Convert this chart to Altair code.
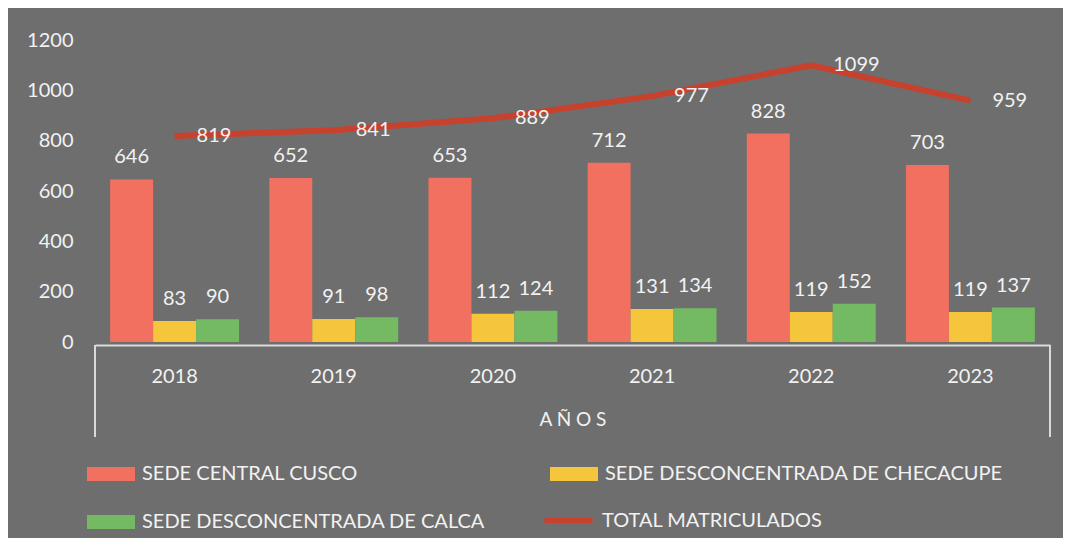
import altair as alt
import pandas as pd

years = ["2018", "2019", "2020", "2021", "2022", "2023"]
cusco = [646, 652, 653, 712, 828, 703]
checacupe = [83, 91, 112, 131, 119, 119]
calca = [90, 98, 124, 134, 152, 137]
total = [819, 841, 889, 977, 1099, 959]

series_names = [
    "SEDE CENTRAL CUSCO",
    "SEDE DESCONCENTRADA DE CHECACUPE",
    "SEDE DESCONCENTRADA DE CALCA",
]
total_name = "TOTAL  MATRICULADOS"
bar_colors = ["#F1705F", "#F5C53C", "#74BA62"]
line_color = "#C8412C"
text_color = "#F2F2F2"
bg = "#6E6E6E"
font = "Lato"

rows = []
for i, y in enumerate(years):
    for name, vals in zip(series_names, [cusco, checacupe, calca]):
        rows.append({"year": y, "serie": name, "value": vals[i]})
df_bars = pd.DataFrame(rows)
df_total = pd.DataFrame({"year": years, "value": total, "serie": [total_name] * len(years)})

W, H = 955, 302

x_enc = alt.X(
    "year:N",
    sort=years,
    scale=alt.Scale(paddingInner=0.19, paddingOuter=0.095),
    axis=alt.Axis(
        title="A  Ñ  O  S",
        titleColor=text_color,
        titleFont=font,
        titleFontSize=19,
        titleFontWeight="normal",
        titlePadding=24,
        labelColor=text_color,
        labelFont=font,
        labelFontSize=20,
        labelPadding=21,
        labelAngle=0,
        ticks=False,
        domainColor="#D9D9D9",
        domainWidth=2,
        offset=3,
    ),
)
y_enc = alt.Y(
    "value:Q",
    scale=alt.Scale(domain=[0, 1200], nice=False),
    axis=alt.Axis(
        title=None,
        values=[0, 200, 400, 600, 800, 1000, 1200],
        format="d",
        grid=False,
        ticks=False,
        domain=False,
        labelColor=text_color,
        labelFont=font,
        labelFontSize=20,
        labelPadding=22,
    ),
)
xoff = alt.XOffset("serie:N", sort=series_names, scale=alt.Scale(paddingInner=0, paddingOuter=0))

bars = alt.Chart(df_bars).mark_bar().encode(
    x=x_enc,
    xOffset=xoff,
    y=y_enc,
    color=alt.Color(
        "serie:N",
        sort=series_names,
        scale=alt.Scale(domain=series_names, range=bar_colors),
        legend=alt.Legend(
            title=None,
            values=series_names,
            orient="none",
            direction="horizontal",
            legendX=-8,
            legendY=410,
            columns=2,
            columnPadding=64,
            rowPadding=14,
            symbolType="M-1,-0.29H1V0.29H-1Z",
            symbolSize=2304,
            symbolStrokeWidth=0,
            labelOffset=7,
            labelColor=text_color,
            labelFont=font,
            labelFontSize=20,
            labelLimit=600,
        ),
    ),
)

bar_labels = alt.Chart(df_bars).mark_text(
    baseline="bottom", dy=-12, color=text_color, font=font, fontSize=20
).encode(
    x=alt.X("year:N", sort=years),
    xOffset=xoff,
    y="value:Q",
    text="value:Q",
)

line = alt.Chart(df_total).mark_line(strokeWidth=6).encode(
    x=alt.X("year:N", sort=years),
    y="value:Q",
    stroke=alt.Stroke(
        "serie:N",
        scale=alt.Scale(domain=[total_name], range=[line_color]),
        legend=alt.Legend(
            title=None,
            orient="none",
            legendX=447,
            legendY=454,
            symbolType="stroke",
            symbolSize=2304,
            symbolStrokeWidth=5,
            labelOffset=7,
            labelColor=text_color,
            labelFont=font,
            labelFontSize=20,
            labelLimit=600,
        ),
    ),
)

line_labels = alt.Chart(df_total).mark_text(
    align="left", baseline="middle", dx=22, dy=0, color=text_color, font=font, fontSize=20
).encode(
    x=alt.X("year:N", sort=years),
    y="value:Q",
    text="value:Q",
)

dummy = pd.DataFrame({"a": [0]})
left_rule = alt.Chart(dummy).mark_rule(color="#D9D9D9", strokeWidth=2).encode(
    x=alt.value(0), y=alt.value(H + 3), y2=alt.value(H + 95)
)
right_rule = alt.Chart(dummy).mark_rule(color="#D9D9D9", strokeWidth=2).encode(
    x=alt.value(W), y=alt.value(H + 3), y2=alt.value(H + 95)
)

chart = (
    alt.layer(bars, bar_labels, line, line_labels, left_rule, right_rule)
    .properties(
        width=W,
        height=H,
        background=bg,
        autosize=alt.AutoSizeParams(type="none"),
        padding={"left": 87, "top": 32, "right": 13, "bottom": 196},
    )
    .configure_view(stroke=None)
)

chart.save("out.html", embed_options={"renderer": "svg", "actions": False})
